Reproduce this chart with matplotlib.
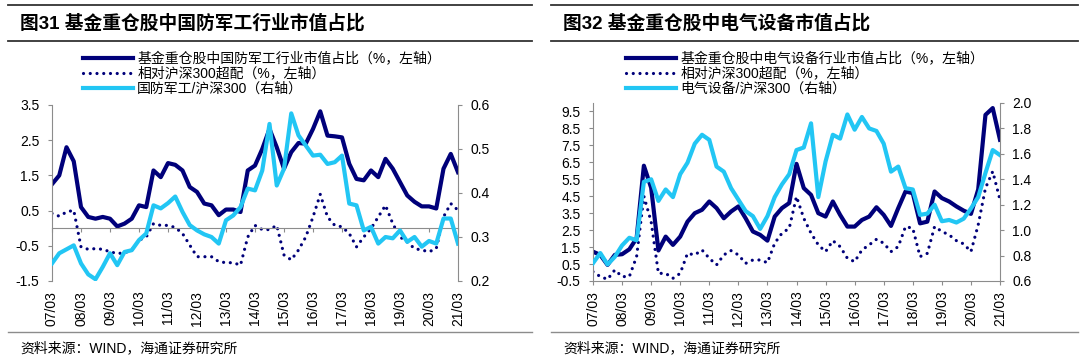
import numpy as np
import pandas as pd
import matplotlib
matplotlib.use('Agg')
import matplotlib.pyplot as plt
from matplotlib.lines import Line2D
from matplotlib.ticker import FormatStrFormatter

plt.rcParams['font.family'] = ['Liberation Sans', 'Noto Sans CJK SC']
plt.rcParams['axes.unicode_minus'] = False

# 季度数据：2007/03 - 2021/03
dates = pd.date_range('2007-03-31', '2021-03-31', freq='QE')
tick_labels = [d.strftime('%y/%m') for d in dates[::4]]

# 图31 国防军工
jg_share = [1.25, 1.5, 2.3, 1.9, 0.6, 0.32, 0.27, 0.32, 0.27, 0.05, 0.13, 0.27, 0.65, 0.6,
            1.64, 1.45, 1.85, 1.8, 1.64, 1.17, 1.03, 0.7, 0.65, 0.37, 0.53, 0.53, 0.46, 1.64,
            1.78, 2.25, 2.82, 2.3, 1.69, 2.16, 2.42, 2.4, 2.82, 3.32, 2.63, 2.61, 2.58, 1.83,
            1.4, 1.36, 1.64, 1.45, 1.97, 1.69, 1.31, 0.93, 0.75, 0.62, 0.62, 0.56, 1.69, 2.11, 1.59]
jg_excess = [0.42, 0.34, 0.46, 0.51, -0.53, -0.6, -0.58, -0.6, -0.67, -0.72, -0.7, -0.62, -0.34,
             -0.25, 0.13, 0.08, 0.08, 0.02, -0.15, -0.48, -0.81, -0.81, -0.81, -0.95, -0.98, -0.98,
             -1.05, -0.25, 0.08, -0.04, -0.04, 0.08, -0.76, -0.9, -0.62, -0.25, 0.32, 0.96, 0.32,
             0.08, 0.04, -0.15, -0.53, -0.25, -0.01, 0.32, 0.65, 0.13, -0.25, -0.39, -0.58, -0.62,
             -0.67, -0.58, 0.32, 0.7, 0.51]
jg_rel = [0.24, 0.263, 0.272, 0.281, 0.24, 0.215, 0.204, 0.232, 0.263, 0.236, 0.266, 0.27, 0.293,
          0.308, 0.372, 0.365, 0.377, 0.392, 0.357, 0.327, 0.315, 0.306, 0.3, 0.285, 0.338, 0.349,
          0.368, 0.41, 0.406, 0.451, 0.557, 0.417, 0.455, 0.581, 0.531, 0.508, 0.485, 0.487, 0.466,
          0.47, 0.485, 0.376, 0.372, 0.315, 0.323, 0.285, 0.3, 0.297, 0.315, 0.289, 0.3, 0.278,
          0.291, 0.285, 0.342, 0.342, 0.285]
jg_labels = ['基金重仓股中国防军工行业市值占比（%，左轴）', '相对沪深300超配（%，左轴）', '国防军工/沪深300（右轴）']

# 图32 电气设备
dq_share = [1.23, 1.04, 0.45, 1.04, 1.08, 1.37, 2.02, 6.3, 5.0, 1.3, 2.12, 1.63, 2.12, 3.0, 3.5,
            3.7, 4.19, 3.8, 3.2, 3.6, 3.9, 3.2, 2.42, 2.22, 1.88, 3.3, 3.8, 4.1, 6.41, 4.98, 4.58,
            3.5, 3.3, 4.19, 3.4, 2.71, 2.71, 3.1, 3.3, 3.85, 3.4, 2.75, 3.8, 4.78, 4.68, 2.9, 3.0,
            4.78, 4.39, 4.19, 3.9, 3.65, 3.46, 4.9, 9.3, 9.7, 7.83]
dq_excess = [0.05, -0.24, -0.4, 0.15, -0.24, -0.24, 0.94, 4.5, 3.0, -0.05, -0.05, -0.34, -0.05,
             1.13, 1.04, 1.33, 0.84, 0.45, 1.04, 1.29, 1.04, 0.54, 0.74, 0.74, 0.58, 1.73, 2.32,
             2.61, 4.48, 3.2, 2.32, 1.63, 1.23, 1.88, 1.53, 0.84, 0.64, 1.33, 1.63, 1.96, 1.73,
             1.23, 1.53, 2.71, 2.61, 0.94, 1.13, 2.71, 2.42, 2.22, 1.88, 1.69, 1.23, 2.81, 4.98,
             5.96, 4.29]
dq_rel = [0.74, 0.82, 0.73, 0.79, 0.88, 0.94, 0.92, 1.38, 1.4, 1.23, 1.32, 1.26, 1.44, 1.53, 1.68,
          1.75, 1.71, 1.5, 1.46, 1.33, 1.24, 1.15, 1.11, 1.01, 1.11, 1.26, 1.36, 1.44, 1.63, 1.65,
          1.84, 1.26, 1.54, 1.75, 1.72, 1.91, 1.79, 1.89, 1.8, 1.78, 1.68, 1.46, 1.5, 1.33, 1.32,
          1.12, 1.13, 1.2, 1.07, 1.08, 1.06, 1.09, 1.17, 1.26, 1.45, 1.63, 1.59]
dq_labels = ['基金重仓股中电气设备行业市值占比（%，左轴）', '相对沪深300超配（%，左轴）', '电气设备/沪深300（右轴）']

NAVY = '#00007a'
CYAN = '#22c6f4'
GREY = '#8c8c8c'
W, H = 1080, 359

fig = plt.figure(figsize=(W / 100, H / 100), dpi=100)
x = np.arange(len(dates))
xt = x[::4]


def draw_panel(rect, x0, x1, title, share, excess, rel, labels, ylim, ylim2, step2, zero_axis):
    ax = fig.add_axes(rect)
    ax2 = ax.twinx()

    l1, = ax.plot(x, share, color=NAVY, lw=3.0, solid_joinstyle='round', label=labels[0])
    l2, = ax.plot(x, excess, color=NAVY, lw=2.3, linestyle=(0, (0.01, 2.1)),
                  dash_capstyle='round', label=labels[1])
    l3, = ax2.plot(x, rel, color=CYAN, lw=3.0, solid_joinstyle='round', label=labels[2])

    ax.set_xlim(x[0], x[-1])
    ax.set_ylim(*ylim)
    ax.set_yticks(np.arange(ylim[0], ylim[1] + 0.01, 1.0))
    ax.yaxis.set_major_formatter(FormatStrFormatter('%.1f'))
    ax2.set_ylim(*ylim2)
    ax2.set_yticks(np.arange(ylim2[0], ylim2[1] + 0.001, step2))
    ax2.yaxis.set_major_formatter(FormatStrFormatter('%.1f'))

    for a in (ax, ax2):
        for s in a.spines.values():
            s.set_color(GREY)
    ax.spines['top'].set_visible(False)
    ax.spines['right'].set_visible(False)
    for s in ('top', 'bottom', 'left'):
        ax2.spines[s].set_visible(False)

    ax.tick_params(axis='y', direction='out', length=3, color=GREY, pad=6, labelsize=10)
    ax2.tick_params(axis='y', direction='out', length=3, color=GREY, pad=6, labelsize=10)

    if zero_axis:
        # x 轴线画在 0 处，标签放在底部
        ax.spines['bottom'].set_position(('data', 0))
        ax.set_xticks(xt)
        ax.tick_params(axis='x', direction='out', length=3, color=GREY, labelbottom=False)
        sec = ax.secondary_xaxis('bottom')
        sec.set_xticks(xt, labels=tick_labels, rotation=90)
        sec.tick_params(length=0, pad=7, labelsize=10)
        sec.spines['bottom'].set_visible(False)
    else:
        ax.set_xticks(xt, labels=tick_labels, rotation=90)
        ax.tick_params(axis='x', direction='out', length=3, color=GREY, pad=4, labelsize=10)

    # 标题、分隔线、图例、资料来源
    for yy, lw in ((5, 1.3), (41, 1.3), (332, 1.0)):
        fig.add_artist(Line2D([x0 / W, x1 / W], [1 - yy / H, 1 - yy / H],
                              transform=fig.transFigure, color='#333333' if yy < 100 else GREY, lw=lw))
    fig.text((x0 + 12) / W, 1 - 23 / H, title, fontsize=13.5, fontweight='bold', va='center')
    fig.legend(handles=[l1, l2, l3], loc='upper left', bbox_to_anchor=((x0 + 75) / W, 1 - 52 / H),
               frameon=False, prop={'size': 10, 'weight': 'light'}, handlelength=3.6,
               handletextpad=0.3, labelspacing=0.05, borderpad=0, borderaxespad=0)
    fig.text((x0 + 12) / W, 1 - 348 / H, '资料来源：WIND，海通证券研究所', fontsize=10,
             fontweight='light', va='center')


draw_panel([52 / W, 78 / H, 406 / W, 176 / H], 8, 532, '图31 基金重仓股中国防军工行业市值占比',
           jg_share, jg_excess, jg_rel, jg_labels, (-1.5, 3.5), (0.2, 0.6), 0.1, True)
draw_panel([593 / W, 78 / H, 407 / W, 178 / H], 551, 1078, '图32 基金重仓股中电气设备市值占比',
           dq_share, dq_excess, dq_rel, dq_labels, (-0.5, 10.0), (0.6, 2.0), 0.2, False)

fig.savefig('out.png', dpi=100)
